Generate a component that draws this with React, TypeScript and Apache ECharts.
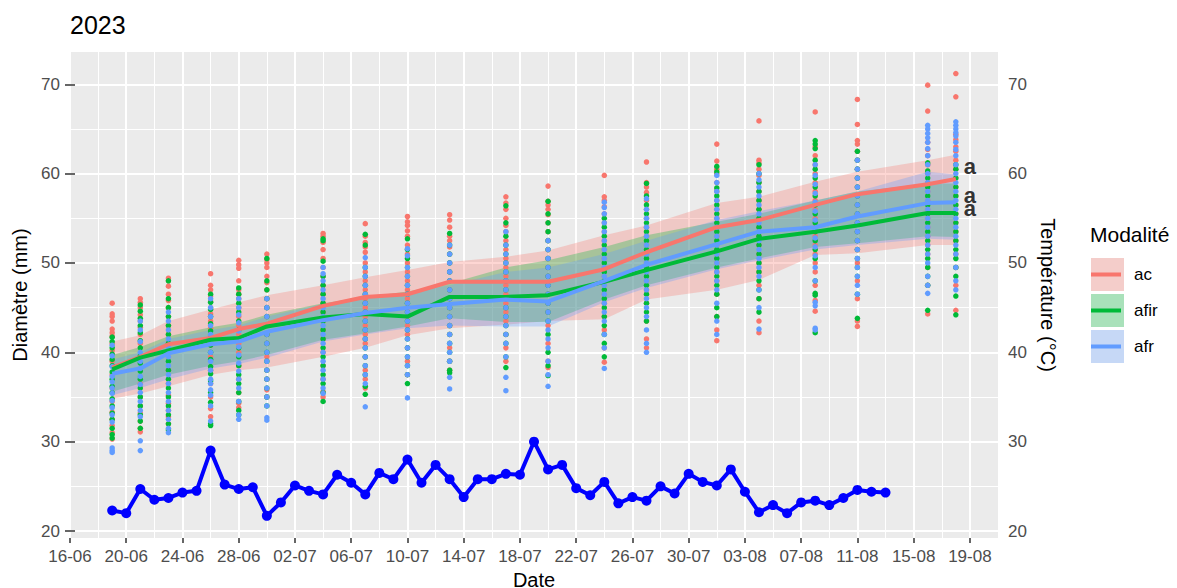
import React, { useEffect, useRef } from "react";
import * as echarts from "echarts";

// Days counted from 16-06-2023
const measureDays = [3, 5, 7, 10, 12, 14, 18, 21, 24, 27, 31, 34, 38, 41, 46, 49, 53, 56, 61, 63];
const xTickDays = [0, 4, 8, 12, 16, 20, 24, 28, 32, 36, 40, 44, 48, 52, 56, 60, 64];
const xTickLabels = ["16-06", "20-06", "24-06", "28-06", "02-07", "06-07", "10-07", "14-07", "18-07", "22-07", "26-07", "30-07", "03-08", "07-08", "11-08", "15-08", "19-08"];
const xMinorDays = [2, 6, 10, 14, 18, 22, 26, 30, 34, 38, 42, 46, 50, 54, 58, 62];
const yTicks = [20, 30, 40, 50, 60, 70];
const yMinorTicks = [25, 35, 45, 55, 65];
const xMin = 0;
const xMax = 66;
const yMin = 19.22;
const yMax = 73.61;

const groups = ["ac", "afir", "afr"];
const groupColors = ["#F8766D", "#00BA38", "#619CFF"];
const keyFills = ["#F4CDCA", "#A9E1BA", "#C6D8F6"];

// daily temperature starting 19-06
const tempStartDay = 3;
const temperature = [
  22.3, 22.0, 24.7, 23.5, 23.7, 24.3, 24.5, 29.0, 25.2, 24.7, 24.9, 21.7, 23.2, 25.1, 24.5, 24.1,
  26.3, 25.4, 24.1, 26.5, 25.8, 28.0, 25.4, 27.4, 25.8, 23.8, 25.8, 25.8, 26.4, 26.3, 30.0, 26.9,
  27.4, 24.8, 24.0, 25.5, 23.1, 23.8, 23.4, 25.0, 24.2, 26.4, 25.5, 25.1, 26.9, 24.4, 22.1, 22.9,
  22.0, 23.2, 23.4, 22.9, 23.7, 24.6, 24.4, 24.3,
];

const acMean = [38.3, 39.5, 40.9, 41.6, 42.6, 43.2, 45.2, 46.2, 46.5, 47.9, 47.9, 47.9, 49.3, 51.2, 54.0, 54.8, 56.5, 57.7, 58.8, 59.4];
const afirMean = [38.1, 39.4, 40.2, 41.4, 41.6, 42.9, 43.9, 44.3, 44.0, 46.2, 46.2, 46.4, 47.9, 49.2, 51.3, 52.7, 53.5, 54.2, 55.6, 55.6];
const afrMean = [37.6, 38.2, 39.9, 40.9, 41.2, 42.3, 43.6, 44.4, 45.0, 45.4, 45.9, 45.7, 48.0, 49.8, 52.1, 53.5, 54.0, 55.2, 56.7, 56.8];

const acHigh = [41.2, 41.9, 43.5, 44.8, 45.6, 46.4, 47.5, 48.4, 49.2, 50.1, 50.7, 51.4, 53.1, 54.2, 56.7, 57.4, 59.1, 60.2, 61.5, 62.1];
const acLow = [34.8, 35.4, 36.2, 37.5, 38.0, 38.3, 39.5, 40.5, 41.9, 42.7, 43.1, 43.5, 43.7, 45.9, 47.0, 48.1, 50.9, 51.1, 52.0, 52.0];
const afirHigh = [39.7, 40.6, 41.8, 42.8, 43.3, 44.2, 45.5, 46.2, 46.8, 47.7, 49.5, 50.3, 51.8, 53.1, 54.6, 55.5, 57.0, 58.0, 58.9, 58.9];
const afirLow = [35.6, 36.5, 37.5, 38.5, 39.0, 39.7, 41.4, 42.1, 42.9, 43.8, 43.4, 43.4, 45.9, 47.5, 49.5, 50.5, 51.8, 52.2, 53.0, 52.9];
const afrHigh = [39.2, 40.0, 41.5, 42.5, 43.0, 44.0, 45.4, 46.2, 46.7, 47.5, 49.0, 49.5, 51.0, 52.5, 54.8, 55.8, 57.0, 58.0, 60.2, 59.9];
const afrLow = [35.2, 36.0, 37.0, 38.2, 38.7, 39.4, 41.2, 42.0, 42.7, 43.0, 42.9, 42.9, 45.6, 47.2, 49.3, 50.3, 51.5, 52.0, 52.7, 52.6];

// individual diameters per measurement date
const acPoints = [
  [45.5, 44.3, 44.0, 43.5, 42.6, 42.2, 41.8, 41.0, 40.2, 39.0, 37.5, 36.0, 34.5, 33.3, 32.5, 31.8, 31.0, 30.3],
  [46.0, 45.6, 45.0, 44.2, 43.5, 42.8, 42.0, 41.0, 39.5, 38.0, 36.5, 35.0, 34.0, 33.2, 32.3, 31.5, 31.1],
  [48.3, 48.0, 47.4, 46.5, 45.8, 45.0, 44.0, 43.0, 42.0, 41.0, 39.5, 38.0, 36.5, 35.2, 34.3, 33.5, 32.8, 32.0],
  [48.8, 47.5, 47.0, 46.3, 45.7, 45.0, 44.3, 43.5, 42.7, 41.9, 40.8, 39.5, 38.0, 36.5, 35.0, 33.7, 32.8],
  [50.3, 49.8, 49.4, 48.0, 47.0, 46.5, 46.0, 45.0, 44.0, 43.0, 42.0, 41.0, 40.0, 38.5, 37.0, 35.5, 34.3, 33.8],
  [51.0, 50.4, 50.0, 49.5, 48.5, 47.8, 47.0, 46.0, 45.0, 44.0, 43.0, 42.0, 41.0, 39.5, 38.0, 37.0, 35.8, 35.0],
  [53.3, 53.0, 52.3, 51.5, 50.5, 49.5, 48.5, 47.5, 46.5, 45.5, 44.5, 43.5, 42.5, 41.5, 40.0, 38.5, 37.0, 35.6, 35.0],
  [54.4, 53.0, 52.3, 51.8, 51.2, 50.0, 49.0, 48.0, 47.0, 46.0, 45.0, 44.0, 43.0, 42.0, 41.0, 39.5, 38.0, 37.0, 36.0],
  [55.2, 54.6, 54.2, 53.6, 53.0, 52.0, 51.0, 50.0, 49.0, 48.0, 47.0, 46.0, 45.0, 44.0, 43.0, 42.0, 40.5, 39.0, 37.5],
  [55.4, 54.8, 54.0, 53.0, 52.5, 51.8, 51.0, 50.0, 49.0, 48.0, 47.0, 46.0, 45.0, 44.0, 43.0, 42.0, 40.5, 39.0, 38.0],
  [57.4, 56.7, 56.0, 55.0, 54.2, 53.5, 52.5, 51.5, 50.5, 49.5, 48.5, 47.5, 46.5, 45.5, 44.5, 43.5, 42.0, 40.5, 39.0],
  [58.6, 56.9, 56.5, 56.0, 55.4, 54.5, 53.5, 52.5, 51.5, 50.5, 49.5, 48.5, 47.5, 46.5, 45.5, 44.5, 43.0, 41.0, 39.0, 38.3],
  [59.8, 57.4, 57.0, 56.3, 55.5, 54.5, 53.5, 52.5, 51.5, 50.5, 49.5, 48.5, 47.5, 46.5, 45.5, 44.0, 42.5, 40.5, 38.9],
  [61.3, 59.0, 58.5, 57.9, 57.0, 56.0, 55.0, 54.0, 53.0, 52.0, 51.0, 50.0, 49.0, 48.0, 47.0, 45.5, 43.5, 41.5, 40.5],
  [63.3, 61.4, 60.5, 60.0, 59.0, 58.0, 57.0, 56.0, 55.0, 54.0, 53.0, 52.0, 51.0, 50.0, 49.0, 48.0, 46.5, 44.0, 42.5, 41.3],
  [65.9, 61.5, 61.2, 60.5, 59.8, 59.0, 58.0, 57.0, 56.0, 55.0, 54.0, 53.0, 52.0, 51.0, 50.0, 49.0, 47.5, 46.0, 43.5, 42.2],
  [66.9, 63.0, 62.0, 61.0, 60.0, 59.0, 58.0, 57.0, 56.0, 55.0, 54.0, 53.0, 52.0, 51.0, 50.0, 49.0, 47.5, 45.8, 44.6],
  [68.3, 65.5, 63.7, 63.3, 62.5, 61.5, 60.5, 59.5, 58.5, 57.5, 56.5, 55.5, 54.5, 53.5, 52.5, 51.5, 50.0, 48.0, 46.0, 43.5, 42.9],
  [69.9, 67.0, 63.5, 62.7, 62.0, 61.0, 60.0, 59.0, 58.0, 57.0, 56.0, 55.0, 54.0, 53.0, 52.0, 51.0, 49.5, 47.5, 44.3],
  [71.2, 68.6, 64.4, 63.8, 63.0, 62.5, 61.5, 60.5, 59.5, 58.5, 57.5, 56.5, 55.5, 54.5, 53.5, 52.5, 51.0, 49.5, 47.5, 44.7],
];
const afirPoints = [
  [41.7, 41.2, 40.5, 39.8, 39.2, 38.5, 37.8, 37.0, 36.2, 35.5, 34.8, 34.0, 33.2, 32.5, 31.5, 30.8, 30.4],
  [45.3, 44.6, 43.8, 43.0, 42.2, 41.3, 40.5, 39.6, 38.8, 37.9, 37.0, 36.0, 35.0, 34.0, 33.0, 32.3, 31.5],
  [48.0, 46.0, 45.0, 44.0, 43.0, 42.0, 41.0, 40.0, 39.0, 38.0, 37.0, 36.0, 35.0, 34.0, 33.0, 32.0, 31.3],
  [46.5, 45.6, 44.8, 44.0, 43.2, 42.4, 41.6, 40.8, 40.0, 39.2, 38.4, 37.6, 36.8, 35.5, 34.4, 32.0, 31.8],
  [47.2, 46.5, 45.5, 44.5, 43.5, 42.5, 41.5, 40.5, 39.5, 38.5, 37.5, 36.5, 35.5, 34.5, 33.5, 33.0],
  [50.5, 48.0, 47.0, 46.0, 45.0, 44.0, 43.0, 42.0, 41.0, 40.0, 39.0, 38.0, 37.0, 36.0, 35.0, 34.0],
  [52.7, 52.5, 50.2, 48.5, 47.5, 46.5, 45.5, 44.5, 43.5, 42.5, 41.5, 40.5, 39.5, 38.5, 37.5, 36.5, 35.5, 34.5],
  [53.2, 52.0, 49.5, 48.5, 47.5, 46.5, 45.5, 44.5, 43.5, 42.5, 41.5, 40.5, 39.5, 38.5, 37.5, 36.2, 35.3],
  [52.7, 51.5, 50.5, 49.5, 48.5, 47.5, 46.5, 45.5, 44.5, 43.5, 42.5, 41.5, 40.5, 39.5, 38.5, 37.5, 36.5],
  [53.3, 52.0, 51.0, 50.0, 49.0, 48.0, 47.0, 46.0, 45.0, 44.0, 43.0, 42.0, 41.0, 40.0, 39.0, 38.0, 37.7],
  [56.4, 54.5, 53.0, 52.0, 51.0, 50.0, 49.0, 48.0, 47.0, 46.0, 45.0, 44.0, 43.0, 42.0, 41.0, 39.5, 38.3],
  [56.9, 55.5, 54.5, 53.5, 52.5, 51.5, 50.5, 49.5, 48.5, 47.5, 46.5, 45.5, 44.5, 43.5, 42.0, 40.0, 38.5, 37.4],
  [55.0, 54.0, 53.0, 52.0, 51.0, 50.0, 49.0, 48.0, 47.0, 46.0, 45.0, 44.0, 43.0, 42.0, 41.0, 39.5],
  [58.9, 57.5, 56.5, 55.5, 54.5, 53.5, 52.5, 51.5, 50.5, 49.5, 48.5, 47.5, 46.5, 45.5, 44.5, 43.5],
  [60.8, 60.2, 58.4, 57.5, 56.5, 55.5, 54.5, 53.5, 52.5, 51.5, 50.5, 49.5, 48.5, 47.5, 46.5, 45.0, 44.0],
  [61.0, 60.0, 59.0, 58.0, 57.0, 56.0, 55.0, 54.0, 53.0, 52.0, 51.0, 50.0, 49.0, 48.0, 47.0, 46.0, 44.5],
  [63.7, 63.3, 62.8, 61.5, 60.5, 59.5, 58.5, 57.5, 56.5, 55.5, 54.5, 53.5, 52.5, 51.5, 50.5, 48.0, 46.6, 46.4, 42.2],
  [62.5, 61.5, 60.5, 59.5, 58.5, 57.5, 56.5, 55.5, 54.5, 53.5, 52.5, 51.5, 50.5, 49.5, 48.5, 46.5, 43.8],
  [61.2, 60.3, 59.5, 58.5, 57.5, 56.5, 55.5, 54.5, 53.5, 52.5, 51.5, 50.5, 49.5, 48.5, 47.5, 44.7],
  [61.0, 60.5, 59.5, 58.5, 57.5, 56.5, 55.5, 54.5, 53.5, 52.5, 51.5, 50.5, 49.5, 48.5, 46.3, 44.2],
];
const afrPoints = [
  [40.8, 39.6, 38.4, 37.3, 36.7, 36.0, 35.4, 34.6, 33.8, 33.0, 32.2, 29.3, 29.0, 28.8],
  [43.5, 42.5, 41.2, 40.0, 39.0, 38.2, 37.3, 36.4, 35.5, 34.5, 33.5, 32.8, 30.1, 29.0],
  [44.5, 43.5, 42.5, 41.5, 40.5, 39.5, 38.5, 37.5, 36.5, 35.5, 34.5, 33.5, 32.5, 31.5, 31.0],
  [46.0, 45.0, 44.0, 43.0, 42.0, 41.0, 40.0, 39.0, 38.0, 37.0, 36.5, 35.8, 35.2, 34.0, 32.3],
  [46.0, 45.0, 44.2, 43.3, 42.4, 41.5, 40.6, 39.7, 38.8, 37.9, 37.0, 36.0, 34.5, 33.0, 32.5],
  [46.0, 45.0, 44.0, 43.0, 42.0, 41.0, 40.0, 39.0, 38.0, 37.0, 36.0, 35.0, 34.0, 32.7, 32.4],
  [49.5, 48.8, 48.0, 47.0, 46.0, 45.0, 44.0, 43.0, 42.0, 41.0, 40.0, 39.0, 38.0, 37.0, 36.0, 35.4],
  [50.6, 49.5, 48.5, 47.5, 46.5, 45.5, 44.5, 43.5, 42.5, 41.5, 40.5, 39.5, 38.5, 37.5, 36.5, 33.9],
  [51.6, 50.8, 49.5, 48.5, 47.5, 46.5, 45.5, 44.5, 43.5, 42.5, 41.5, 40.5, 39.5, 38.5, 37.5, 34.9],
  [52.0, 51.0, 50.0, 49.0, 48.0, 47.0, 46.0, 45.0, 44.0, 43.0, 42.0, 41.0, 40.0, 39.0, 37.2, 35.9],
  [53.5, 52.0, 51.0, 50.0, 49.0, 48.0, 47.0, 46.0, 45.0, 44.0, 43.0, 42.0, 41.0, 39.5, 37.2, 35.7],
  [52.5, 51.5, 50.5, 49.5, 48.5, 47.5, 46.5, 45.5, 44.5, 43.5, 42.5, 41.5, 40.5, 39.0, 37.5, 36.2],
  [56.8, 56.2, 55.5, 54.5, 53.5, 52.5, 51.5, 50.5, 49.5, 48.5, 47.5, 46.5, 45.5, 44.5, 43.5, 42.0, 40.5, 38.2],
  [57.2, 56.0, 55.0, 54.0, 53.0, 52.0, 51.0, 50.0, 49.0, 48.0, 47.0, 46.0, 45.0, 44.0, 42.5, 41.0, 40.0],
  [59.8, 59.0, 58.0, 57.0, 56.0, 55.0, 54.0, 53.0, 52.0, 51.0, 50.0, 49.0, 48.0, 47.0, 45.5, 43.5, 42.0],
  [60.0, 59.3, 58.5, 57.5, 56.5, 55.5, 54.5, 53.5, 52.5, 51.5, 50.5, 49.5, 48.5, 47.0, 45.0, 42.6],
  [61.0, 59.8, 58.8, 57.8, 56.8, 55.8, 54.8, 53.8, 52.8, 51.8, 50.8, 49.5, 48.0, 45.6, 45.2, 42.7, 42.5],
  [61.5, 60.5, 59.5, 58.5, 57.5, 56.5, 55.5, 54.5, 53.5, 52.5, 51.5, 50.5, 49.5, 48.5, 47.5, 46.5],
  [65.4, 65.0, 64.5, 64.0, 63.5, 62.8, 62.0, 61.0, 60.0, 59.0, 58.0, 57.0, 56.0, 55.0, 54.0, 53.0, 52.0, 51.0, 50.0, 48.5, 47.5, 46.6],
  [65.8, 65.4, 65.0, 64.6, 64.2, 63.5, 62.7, 62.0, 61.0, 60.0, 59.0, 58.0, 57.0, 56.0, 55.0, 54.0, 53.0, 52.0, 51.0, 49.5, 48.0, 47.0],
];

// significance letters (ac, afr, afir)
const letterTexts = ["a", "a", "a"];
const letterDays = [64, 64, 64];
const letterValues = [60.8, 57.6, 56.1];

const FONT = "'Liberation Sans', Arial, Helvetica, sans-serif";

export default function App() {
  const ref = useRef<HTMLDivElement>(null);

  useEffect(() => {
    document.body.style.margin = "0";
    if (!ref.current) return;
    const chart = echarts.init(ref.current, null, { renderer: "svg" });

    const means = [acMean, afirMean, afrMean];
    const highs = [acHigh, afirHigh, afrHigh];
    const lows = [acLow, afirLow, afrLow];
    const points = [acPoints, afirPoints, afrPoints];

    const ribbonSeries = groups.map((g, gi) => ({
      type: "custom",
      name: g,
      z: 1,
      silent: true,
      clip: true,
      data: [[measureDays[0], means[gi][0]]],
      renderItem: (params: any, api: any) => {
        const upper = measureDays.map((d, i) => api.coord([d, highs[gi][i]]));
        const lower = measureDays.map((d, i) => api.coord([d, lows[gi][i]])).reverse();
        return {
          type: "polygon",
          shape: { points: upper.concat(lower) },
          style: { fill: groupColors[gi], opacity: 0.3 },
        };
      },
    }));

    const scatterSeries = groups.map((g, gi) => {
      const data: number[][] = [];
      points[gi].forEach((vals, i) => vals.forEach((v) => data.push([measureDays[i], v])));
      return {
        type: "scatter",
        name: g,
        z: 2,
        symbolSize: 5.5,
        itemStyle: { color: groupColors[gi], opacity: 1 },
        data,
      };
    });

    const meanSeries = groups.map((g, gi) => ({
      type: "line",
      name: g,
      z: 3,
      symbol: "none",
      lineStyle: { color: groupColors[gi], width: 4 },
      itemStyle: { color: groupColors[gi] },
      data: measureDays.map((d, i) => [d, means[gi][i]]),
    }));

    const tempSeries = {
      type: "line",
      name: "Température",
      yAxisIndex: 1,
      z: 4,
      symbol: "circle",
      symbolSize: 10,
      lineStyle: { color: "#0000FF", width: 4 },
      itemStyle: { color: "#0000FF" },
      data: temperature.map((t, i) => [tempStartDay + i, t]),
    };

    const letterSeries = {
      type: "scatter",
      name: "lettres",
      z: 5,
      symbolSize: 1,
      itemStyle: { color: "rgba(0,0,0,0)" },
      label: {
        show: true,
        position: "inside",
        formatter: (p: any) => letterTexts[p.dataIndex],
        fontSize: 22,
        fontWeight: "bold",
        color: "#000",
        fontFamily: FONT,
      },
      labelLayout: { hideOverlap: false },
      data: letterDays.map((d, i) => [d, letterValues[i]]),
    };

    const axisTickStyle = { show: true, length: 5, lineStyle: { color: "#333333", width: 1.5 } };
    const axisLabelStyle = { color: "#4D4D4D", fontSize: 17, fontFamily: FONT };

    const option: any = {
      animation: false,
      textStyle: { fontFamily: FONT },
      title: [
        { text: "2023", left: 70, top: 12, padding: 0, textStyle: { fontSize: 25, fontWeight: "normal", color: "#000", fontFamily: FONT } },
        { text: "Modalité", left: 1090, top: 224, padding: 0, textStyle: { fontSize: 21, fontWeight: "normal", color: "#000", fontFamily: FONT } },
      ],
      legend: [
        {
          orient: "vertical",
          left: 1091,
          top: 258,
          padding: 0,
          itemWidth: 33,
          itemHeight: 33,
          itemGap: 3,
          icon: "rect",
          selectedMode: false,
          textStyle: { fontSize: 17, color: "#000", fontFamily: FONT, padding: [0, 0, 0, 5] },
          data: groups.map((g, gi) => ({ name: g, itemStyle: { color: keyFills[gi], borderWidth: 0 } })),
        },
        {
          orient: "vertical",
          left: 1091,
          top: 258,
          padding: 0,
          itemWidth: 33,
          itemHeight: 33,
          itemGap: 3,
          icon: "path://M0,0 L30,0 L30,0.01 L0,0.01 Z M0,14.5 L30,14.5 L30,18.5 L0,18.5 Z M0,32.99 L30,32.99 L30,33 L0,33 Z",
          selectedMode: false,
          textStyle: { fontSize: 17, color: "rgba(0,0,0,0)", fontFamily: FONT, padding: [0, 0, 0, 5] },
          data: groups.map((g, gi) => ({ name: g, itemStyle: { color: groupColors[gi], borderWidth: 0 } })),
        },
      ],
      grid: {
        left: 70,
        right: 179,
        top: 52,
        bottom: 50,
        show: true,
        backgroundColor: "#EBEBEB",
        borderWidth: 0,
        containLabel: false,
        outerBoundsMode: "none",
      },
      xAxis: [
        {
          type: "value",
          min: xMin,
          max: xMax,
          name: "Date",
          nameLocation: "middle",
          nameGap: 24,
          nameTextStyle: { fontSize: 20, color: "#000", fontFamily: FONT, lineHeight: 20 },
          axisLine: { show: false },
          axisTick: { ...axisTickStyle, customValues: xTickDays },
          axisLabel: {
            ...axisLabelStyle,
            margin: 10,
            customValues: xTickDays,
            formatter: (v: number) => {
              const i = xTickDays.indexOf(Math.round(v));
              return i >= 0 ? xTickLabels[i] : "";
            },
          },
          splitLine: { show: true, lineStyle: { color: "#FFFFFF", width: 2 } },
        },
        {
          type: "value",
          min: xMin,
          max: xMax,
          position: "bottom",
          axisLine: { show: false },
          axisTick: { show: false, customValues: xMinorDays },
          axisLabel: { show: false, customValues: xMinorDays },
          splitLine: { show: true, lineStyle: { color: "#FFFFFF", width: 1 } },
        },
      ],
      yAxis: [
        {
          type: "value",
          min: yMin,
          max: yMax,
          position: "left",
          name: "Diamètre (mm)",
          nameLocation: "middle",
          nameRotate: 90,
          nameGap: 38,
          nameTextStyle: { fontSize: 20, color: "#000", fontFamily: FONT },
          axisLine: { show: false },
          axisTick: { ...axisTickStyle, customValues: yTicks },
          axisLabel: { ...axisLabelStyle, margin: 10, customValues: yTicks },
          splitLine: { show: true, lineStyle: { color: "#FFFFFF", width: 2 } },
        },
        {
          type: "value",
          min: yMin,
          max: yMax,
          position: "right",
          name: "Température (°C)",
          nameLocation: "middle",
          nameRotate: -90,
          nameGap: 34,
          nameTextStyle: { fontSize: 20, color: "#000", fontFamily: FONT },
          axisLine: { show: false },
          axisTick: { ...axisTickStyle, customValues: yTicks },
          axisLabel: { ...axisLabelStyle, margin: 10, customValues: yTicks },
          splitLine: { show: false },
        },
        {
          type: "value",
          min: yMin,
          max: yMax,
          position: "left",
          axisLine: { show: false },
          axisTick: { show: false, customValues: yMinorTicks },
          axisLabel: { show: false, customValues: yMinorTicks },
          splitLine: { show: true, lineStyle: { color: "#FFFFFF", width: 1 } },
        },
      ],
      series: [...ribbonSeries, ...scatterSeries, ...meanSeries, tempSeries, letterSeries],
    };

    chart.setOption(option);
    return () => chart.dispose();
  }, []);

  return <div ref={ref} style={{ width: 1177, height: 588 }} />;
}
